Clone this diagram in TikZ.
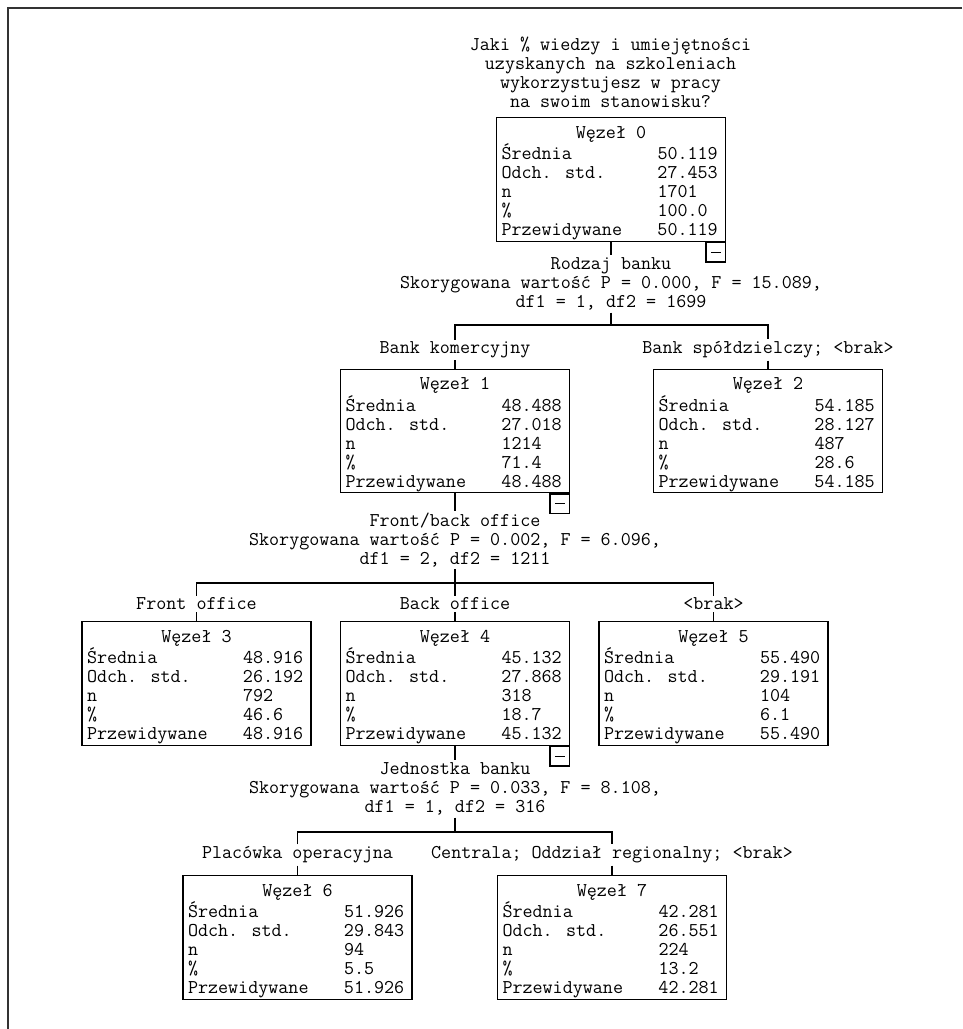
\documentclass[tikz,border=0pt]{standalone}
\usepackage{fontspec}
\usepackage{array}

\newcommand{\wezel}[6]{%
  \begin{tabular}{@{}p{3.12cm}@{}p{1.26cm}@{}}
    \multicolumn{2}{@{}c@{}}{\rule{0pt}{0.41cm}Węzeł #1}\\
    Średnia & #2\\
    Odch. std. & #3\\
    n & #4\\
    \% & #5\\
    Przewidywane & #6
  \end{tabular}}

\begin{document}
\begin{tikzpicture}[-, line width=0.6pt,
    every node/.style={font=\ttfamily\fontsize{11.1pt}{10.8pt}\selectfont},
    box/.style={draw, inner sep=0pt, minimum width=4.58cm, minimum height=2.44cm},
    tekst/.style={align=center, inner sep=1pt},
    minus/.style={draw, inner sep=0pt, minimum size=0.39cm, anchor=north east}]
  \useasboundingbox (0,0) rectangle (19.24,-20.58);
  \draw[line width=1pt, black!80] (19.24,-0.16) -- (0.16,-0.16) -- (0.16,-20.58);

  \node[tekst] (t0) at (12.21,-1.45) {Jaki \% wiedzy i umiejętności\\uzyskanych na szkoleniach\\wykorzystujesz w pracy\\na swoim stanowisku?};

  \node[box] (n0) at (12.22,-3.59) {\wezel{0}{50.119}{27.453}{1701}{100.0}{50.119}};
  \node[minus] (m0) at (n0.south east) {\rule{0.2cm}{0.6pt}};
  \node[tekst] (s0) at (12.22,-5.68) {Rodzaj banku\\Skorygowana wartość P = 0.000, F = 15.089,\\df1 = 1, df2 = 1699};
  \coordinate (b0) at (12.22,-6.5);

  \node[tekst] (l1) at (9.1,-7.0) {Bank komercyjny};
  \node[tekst] (l2) at (15.36,-7.0) {Bank spółdzielczy; <brak>};
  \node[box] (n1) at (9.1,-8.62) {\wezel{1}{48.488}{27.018}{1214}{71.4}{48.488}};
  \node[box] (n2) at (15.36,-8.62) {\wezel{2}{54.185}{28.127}{487}{28.6}{54.185}};
  \node[minus] (m1) at (n1.south east) {\rule{0.2cm}{0.6pt}};
  \node[tekst] (s1) at (9.1,-10.8) {Front/back office\\Skorygowana wartość P = 0.002, F = 6.096,\\df1 = 2, df2 = 1211};
  \coordinate (b1) at (9.1,-11.66);

  \node[tekst] (l3) at (3.93,-12.08) {Front office};
  \node[tekst] (l4) at (9.1,-12.08) {Back office};
  \node[tekst] (l5) at (14.27,-12.08) {<brak>};
  \node[box] (n3) at (3.93,-13.67) {\wezel{3}{48.916}{26.192}{792}{46.6}{48.916}};
  \node[box] (n4) at (9.1,-13.67) {\wezel{4}{45.132}{27.868}{318}{18.7}{45.132}};
  \node[box] (n5) at (14.27,-13.67) {\wezel{5}{55.490}{29.191}{104}{6.1}{55.490}};
  \node[minus] (m4) at (n4.south east) {\rule{0.2cm}{0.6pt}};
  \node[tekst] (s4) at (9.1,-15.78) {Jednostka banku\\Skorygowana wartość P = 0.033, F = 8.108,\\df1 = 1, df2 = 316};
  \coordinate (b4) at (9.1,-16.64);

  \node[tekst] (l6) at (5.95,-17.1) {Placówka operacyjna};
  \node[tekst] (l7) at (12.24,-17.1) {Centrala; Oddział regionalny; <brak>};
  \node[box] (n6) at (5.95,-18.75) {\wezel{6}{51.926}{29.843}{94}{5.5}{51.926}};
  \node[box] (n7) at (12.24,-18.75) {\wezel{7}{42.281}{26.551}{224}{13.2}{42.281}};

  % podzial wezla 0
  \path[-] (n0) edge (s0);
  \path[-] (s0) edge (b0);
  \draw (l1.north) |- (b0) -| (l2.north);
  \path[-] (l1) edge (n1);
  \path[-] (l2) edge (n2);

  % podzial wezla 1
  \path[-] (n1) edge (s1);
  \path[-] (s1) edge (b1);
  \draw (l3.north) |- (b1) -| (l5.north);
  \path[-] (b1) edge (l4);
  \path[-] (l3) edge (n3);
  \path[-] (l4) edge (n4);
  \path[-] (l5) edge (n5);

  % podzial wezla 4
  \path[-] (n4) edge (s4);
  \path[-] (s4) edge (b4);
  \draw (l6.north) |- (b4) -| (l7.north);
  \path[-] (l6) edge (n6);
  \path[-] (l7) edge (n7);
\end{tikzpicture}
\end{document}
